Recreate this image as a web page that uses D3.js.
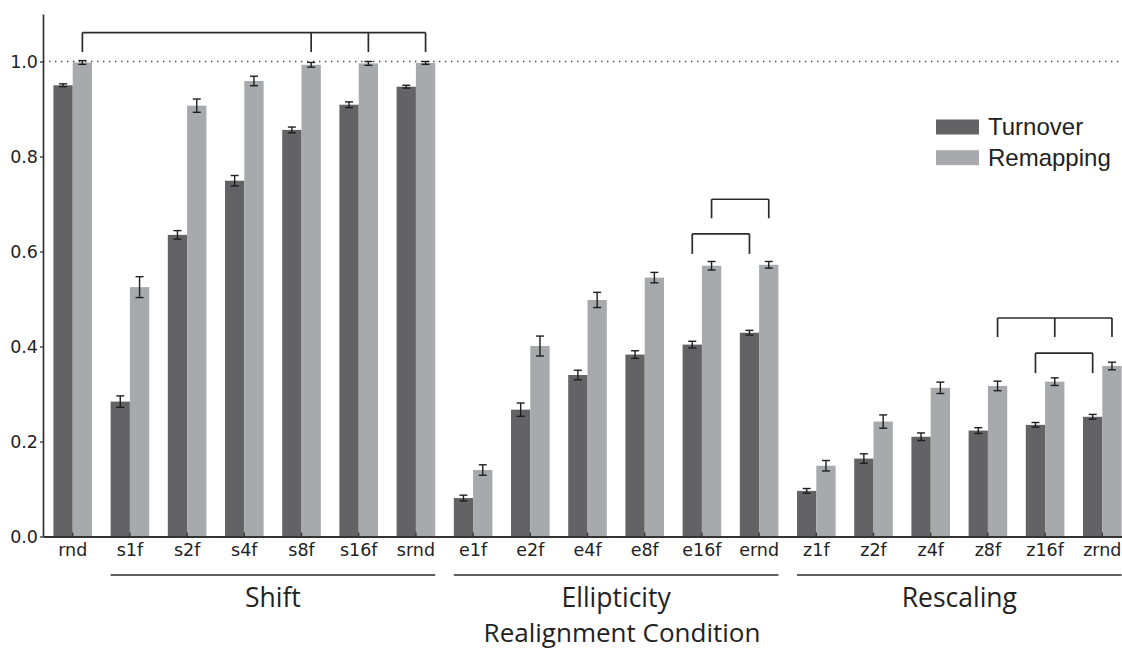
<!DOCTYPE html>
<html>
<head>
<meta charset="utf-8">
<script src="https://cdn.jsdelivr.net/npm/d3@7"></script>
<style>
  body { margin: 0; background: #fff; }
  svg { display: block; }
</style>
</head>
<body>
<svg id="chart" width="1122" height="651"></svg>
<script>
// conditions, in order along x
let categories = ["rnd","s1f","s2f","s4f","s8f","s16f","srnd",
                  "e1f","e2f","e4f","e8f","e16f","ernd",
                  "z1f","z2f","z4f","z8f","z16f","zrnd"];
let series = ["Turnover","Remapping"];

let turnover     = [0.950,0.284,0.635,0.749,0.856,0.909,0.947,
                    0.081,0.267,0.340,0.383,0.404,0.429,
                    0.096,0.164,0.210,0.223,0.235,0.252];
let turnoverErr  = [0.003,0.012,0.009,0.011,0.006,0.006,0.003,
                    0.006,0.014,0.010,0.008,0.007,0.005,
                    0.005,0.010,0.008,0.006,0.005,0.005];
let remapping    = [0.998,0.525,0.907,0.959,0.993,0.996,0.997,
                    0.140,0.401,0.498,0.545,0.570,0.572,
                    0.149,0.242,0.313,0.317,0.326,0.359];
let remappingErr = [0.004,0.022,0.014,0.010,0.005,0.004,0.003,
                    0.011,0.021,0.016,0.011,0.009,0.007,
                    0.011,0.014,0.012,0.010,0.008,0.008];

let yTicks = [0.0,0.2,0.4,0.6,0.8,1.0];

// groups under the axis
let groupNames = ["Shift","Ellipticity","Rescaling"];
let groupFirst = ["s1f","e1f","z1f"];
let groupLast  = ["srnd","ernd","zrnd"];

// significance brackets: which bars they join, bar level, top level
let bracketBars = [
  [["rnd","Remapping"],["s8f","Remapping"],["s16f","Remapping"],["srnd","Remapping"]],
  [["e16f","Remapping"],["ernd","Remapping"]],
  [["e16f","Turnover"],["ernd","Turnover"]],
  [["z8f","Remapping"],["z16f","Remapping"],["zrnd","Remapping"]],
  [["z16f","Turnover"],["zrnd","Turnover"]]
];
let bracketLow  = [1.020,0.670,0.595,0.420,0.344];
let bracketHigh = [1.061,0.710,0.637,0.460,0.386];

let dark  = "#636365";
let light = "#a8a9ac";
let ink   = "#222222";

let rows = categories.map((c,i)=>{
  return {cat:c, vals:[
    {s:"Turnover",  v:turnover[i],  e:turnoverErr[i]},
    {s:"Remapping", v:remapping[i], e:remappingErr[i]}
  ]};
});

let svg = d3.select("#chart");

let x0 = 43, y0 = 536.5;
let step = 57.2, inner = 0.325, outer = 0.182;

let x = d3.scaleBand()
  .domain(categories)
  .range([x0, x0 + step*(categories.length - inner + 2*outer)])
  .paddingInner(inner)
  .paddingOuter(outer);

let xs = d3.scaleBand()
  .domain(series)
  .range([0, x.bandwidth()]);

let y = d3.scaleLinear()
  .domain([0, 1.1])
  .range([y0, y0 - 1.1*475]);

let color = d3.scaleOrdinal().domain(series).range([dark, light]);

function barX(cat, s){ return x(cat) + xs(s) + xs.bandwidth()/2; }

// dotted reference at 1.0
svg.append("line")
  .attr("x1", x0).attr("x2", 1122)
  .attr("y1", y(1)).attr("y2", y(1))
  .attr("stroke", "#444")
  .attr("stroke-width", 1.4)
  .attr("stroke-dasharray", "1.4,4.6");

// bars
let g = svg.append("g").selectAll("g")
  .data(rows)
  .join("g")
  .attr("transform", d=>"translate(" + x(d.cat) + ",0)");

g.selectAll("rect")
  .data(d=>d.vals)
  .join("rect")
  .attr("x", d=>xs(d.s))
  .attr("y", d=>y(d.v))
  .attr("width", xs.bandwidth())
  .attr("height", d=>y0 - y(d.v))
  .attr("fill", d=>color(d.s));

// error bars
let cap = 4;
let eb = g.selectAll("g.err")
  .data(d=>d.vals)
  .join("g")
  .attr("class", "err")
  .attr("stroke", "#1e1e1e")
  .attr("stroke-width", 1.4)
  .attr("fill", "none");

eb.append("line")
  .attr("x1", d=>xs(d.s) + xs.bandwidth()/2)
  .attr("x2", d=>xs(d.s) + xs.bandwidth()/2)
  .attr("y1", d=>y(d.v - d.e))
  .attr("y2", d=>y(d.v + d.e));
eb.append("line")
  .attr("x1", d=>xs(d.s) + xs.bandwidth()/2 - cap)
  .attr("x2", d=>xs(d.s) + xs.bandwidth()/2 + cap)
  .attr("y1", d=>y(d.v + d.e))
  .attr("y2", d=>y(d.v + d.e));
eb.append("line")
  .attr("x1", d=>xs(d.s) + xs.bandwidth()/2 - cap)
  .attr("x2", d=>xs(d.s) + xs.bandwidth()/2 + cap)
  .attr("y1", d=>y(d.v - d.e))
  .attr("y2", d=>y(d.v - d.e));

// brackets
let br = svg.append("g")
  .attr("stroke", "#2a2a2a")
  .attr("stroke-width", 1.7)
  .attr("fill", "none");

bracketBars.forEach((bars,i)=>{
  let xsPos = bars.map(b=>barX(b[0], b[1]));
  br.append("line")
    .attr("x1", d3.min(xsPos)).attr("x2", d3.max(xsPos))
    .attr("y1", y(bracketHigh[i])).attr("y2", y(bracketHigh[i]));
  xsPos.forEach(px=>{
    br.append("line")
      .attr("x1", px).attr("x2", px)
      .attr("y1", y(bracketHigh[i])).attr("y2", y(bracketLow[i]));
  });
});

// y axis
let yAxis = svg.append("g")
  .attr("transform", "translate(" + x0 + ",0)")
  .call(d3.axisLeft(y).tickValues(yTicks).tickFormat(d3.format(".1f"))
        .tickSizeInner(3).tickSizeOuter(0).tickPadding(2));
yAxis.select(".domain").attr("stroke", "#333").attr("stroke-width", 1.7);
yAxis.selectAll(".tick line").attr("stroke", "#333").attr("stroke-width", 1.3);
yAxis.selectAll("text")
  .attr("fill", ink)
  .style("font-family", "DejaVu Sans")
  .style("font-size", "17.5px");

// x axis
let xAxis = svg.append("g")
  .attr("transform", "translate(0," + y0 + ")")
  .call(d3.axisBottom(x).tickSizeInner(-4).tickSizeOuter(0).tickPadding(7.5));
xAxis.select(".domain").attr("stroke", "#333").attr("stroke-width", 2);
xAxis.selectAll(".tick line").attr("stroke", "#333").attr("stroke-width", 1.3);
xAxis.selectAll("text")
  .attr("fill", ink)
  .style("font-family", "DejaVu Sans")
  .style("font-size", "17.5px");

// group underlines and names
groupNames.forEach((name,i)=>{
  let a = x(groupFirst[i]);
  let b = x(groupLast[i]) + x.bandwidth();
  svg.append("line")
    .attr("x1", a).attr("x2", b)
    .attr("y1", 575).attr("y2", 575)
    .attr("stroke", "#2a2a2a")
    .attr("stroke-width", 1.7);
  svg.append("text")
    .attr("x", (a+b)/2)
    .attr("y", 607)
    .attr("text-anchor", "middle")
    .attr("fill", ink)
    .style("font-family", "Open Sans")
    .style("font-size", "26.5px")
    .text(name);
});

svg.append("text")
  .attr("x", 622)
  .attr("y", 642)
  .attr("text-anchor", "middle")
  .attr("fill", ink)
  .style("font-family", "Open Sans")
  .style("font-size", "26px")
  .text("Realignment Condition");

// legend
let lg = svg.append("g").selectAll("g")
  .data(series)
  .join("g")
  .attr("transform", (d,i)=>"translate(936," + (119.5 + i*30.7) + ")");
lg.append("rect")
  .attr("width", 43).attr("height", 15)
  .attr("fill", d=>color(d));
lg.append("text")
  .attr("x", 52).attr("y", 15.5)
  .attr("fill", ink)
  .style("font-family", "Liberation Sans")
  .style("font-size", "24px")
  .text(d=>d);
</script>
</body>
</html>
